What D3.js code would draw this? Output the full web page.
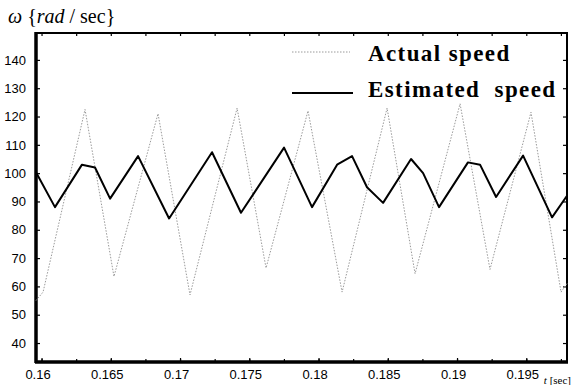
<!DOCTYPE html>
<html>
<head>
<meta charset="utf-8">
<script src="https://cdn.jsdelivr.net/npm/d3@7"></script>
<style>
  body { margin: 0; background: #fff; }
  svg { display: block; font-family: "Liberation Serif", "DejaVu Serif", serif; }
</style>
</head>
<body>
<svg id="chart"></svg>
<script>
// time [sec] and speed [rad/sec]
const actualT = [0.1596, 0.16011, 0.16314, 0.16523, 0.16841, 0.17072, 0.17412, 0.17621, 0.17924,
  0.18170, 0.18495, 0.18697, 0.19022, 0.19238, 0.19534, 0.19751, 0.19794];
const actualW = [55, 58, 122.5, 63.5, 121, 57, 123, 66.5, 122, 58, 123, 64.5, 124.5, 66, 121.5, 58, 61];

const estT = [0.1596, 0.16097, 0.16292, 0.16386, 0.16495, 0.16697, 0.16921, 0.17231, 0.17440,
  0.17751, 0.17953, 0.18134, 0.18242, 0.18350, 0.18466, 0.18668, 0.18755, 0.18870, 0.19079,
  0.19166, 0.19282, 0.19477, 0.19686, 0.19794];
const estW = [100.3, 88, 103, 102, 91, 106, 84, 107.4, 86, 109, 88, 103, 106, 95, 89.5, 105, 100,
  88, 103.8, 103, 91.6, 106.2, 84.4, 92];

const xTicks = [0.16, 0.165, 0.17, 0.175, 0.18, 0.185, 0.19, 0.195];
const xTickLabels = ["0.16", "0.165", "0.17", "0.175", "0.18", "0.185", "0.19", "0.195"];
const yTicks = [40, 50, 60, 70, 80, 90, 100, 110, 120, 130, 140];
const legendNames = ["Actual speed", "Estimated  speed"];

const W = 573, H = 385;
const margin = { top: 33, right: 6, bottom: 23, left: 36 };

const svg = d3.select("#chart").attr("width", W).attr("height", H);

const x = d3.scaleLinear().domain([0.1596, 0.19794]).range([margin.left, W - margin.right]);
const y = d3.scaleLinear().domain([33.3, 149.5]).range([H - margin.bottom, margin.top]);

const actual = actualT.map((t, i) => ({ t, w: actualW[i] }));
const est = estT.map((t, i) => ({ t, w: estW[i] }));

// minor ticks on top/bottom every 0.0025
const minorX = d3.range(0.16, 0.198, 0.0025);

// bottom axis
const bottom = svg.append("g")
  .attr("transform", "translate(0," + y.range()[0] + ")")
  .call(d3.axisBottom(x).tickValues(xTicks).tickSizeInner(-4).tickSizeOuter(0).tickPadding(8)
    .tickFormat((d, i) => xTickLabels[i]));
bottom.selectAll("text").attr("font-size", 13).attr("dx", -4).attr("fill", "#000");

svg.append("g")
  .attr("transform", "translate(0," + y.range()[0] + ")")
  .call(d3.axisBottom(x).tickValues(minorX).tickSize(-3).tickFormat(""))
  .call(g => g.select(".domain").remove());

// top axis
svg.append("g")
  .attr("transform", "translate(0," + y.range()[1] + ")")
  .call(d3.axisTop(x).tickValues(minorX).tickSize(-3).tickFormat(""))
  .call(g => g.select(".domain").remove());

// left axis
const left = svg.append("g")
  .attr("transform", "translate(" + x.range()[0] + ",0)")
  .call(d3.axisLeft(y).tickValues(yTicks).tickSizeInner(-4).tickSizeOuter(0).tickPadding(10));
left.selectAll("text").attr("font-size", 13).attr("fill", "#000");
left.select(".domain").remove();

// right axis
svg.append("g")
  .attr("transform", "translate(" + x.range()[1] + ",0)")
  .call(d3.axisRight(y).tickValues(yTicks).tickSize(-4).tickFormat(""))
  .call(g => g.select(".domain").remove());

svg.selectAll(".tick line").attr("stroke", "#000").attr("stroke-width", 1.2);

// frame
svg.append("rect")
  .attr("x", x.range()[0]).attr("y", y.range()[1])
  .attr("width", x.range()[1] - x.range()[0])
  .attr("height", y.range()[0] - y.range()[1])
  .attr("fill", "none").attr("stroke", "#000").attr("stroke-width", 2);
svg.append("line")
  .attr("x1", x.range()[0]).attr("x2", x.range()[0])
  .attr("y1", y.range()[1] - 1).attr("y2", y.range()[0] + 1)
  .attr("stroke", "#000").attr("stroke-width", 3.5);
svg.append("line")
  .attr("x1", x.range()[0] - 1).attr("x2", x.range()[1] + 1)
  .attr("y1", y.range()[0]).attr("y2", y.range()[0])
  .attr("stroke", "#000").attr("stroke-width", 3.5);

// series
svg.append("path")
  .datum(actual)
  .attr("fill", "none")
  .attr("stroke", "#9a9a9a")
  .attr("stroke-width", 1)
  .attr("stroke-dasharray", "1.5,1.5")
  .attr("d", d3.line().x(d => x(d.t)).y(d => y(d.w)));

svg.append("path")
  .datum(est)
  .attr("fill", "none")
  .attr("stroke", "#000")
  .attr("stroke-width", 2)
  .attr("stroke-linejoin", "round")
  .attr("d", d3.line().x(d => x(d.t)).y(d => y(d.w)));

// legend
const lg = svg.append("g");
lg.append("line").attr("x1", 292).attr("x2", 350).attr("y1", 52).attr("y2", 52)
  .attr("stroke", "#9a9a9a").attr("stroke-width", 1).attr("stroke-dasharray", "1.5,1.5");
lg.append("line").attr("x1", 292).attr("x2", 353).attr("y1", 93).attr("y2", 93)
  .attr("stroke", "#000").attr("stroke-width", 2);
lg.selectAll("text.leg").data(legendNames).join("text")
  .attr("class", "leg")
  .attr("x", 368)
  .attr("y", (d, i) => i === 0 ? 61 : 97)
  .attr("font-size", 23)
  .attr("font-weight", "bold")
  .attr("letter-spacing", 1.4)
  .style("white-space", "pre")
  .text(d => d);

// y title
const yt = svg.append("text").attr("x", 8).attr("y", 23).attr("font-size", 20);
yt.append("tspan").attr("font-style", "italic").text("ω");
yt.append("tspan").text(" {");
yt.append("tspan").attr("font-style", "italic").text("rad");
yt.append("tspan").text(" / sec}");

// x title, tucked into the bottom-right corner
const xt = svg.append("text").attr("x", 571).attr("y", 384)
  .attr("text-anchor", "end").attr("font-size", 11);
xt.append("tspan").attr("font-style", "italic").text("t");
xt.append("tspan").text(" [sec]");
</script>
</body>
</html>
